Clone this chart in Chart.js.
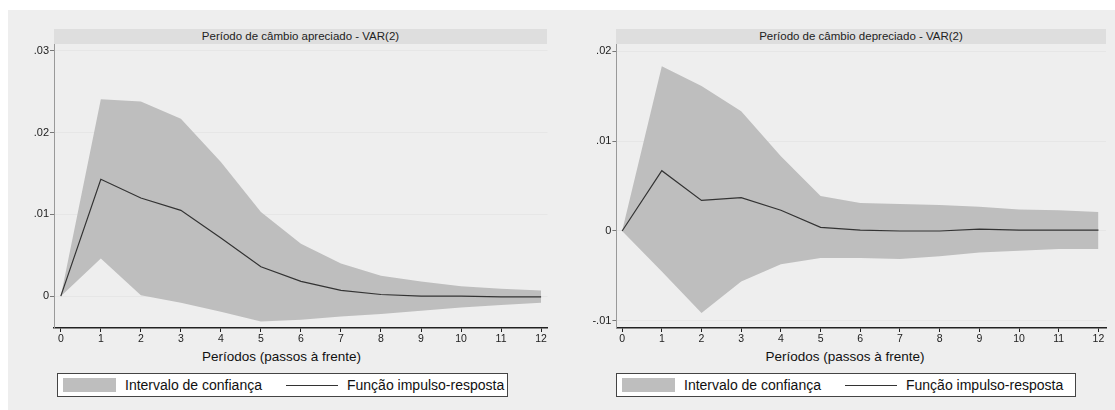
<!DOCTYPE html>
<html>
<head>
<meta charset="utf-8">
<script src="https://cdn.jsdelivr.net/npm/chart.js@4.4.1/dist/chart.umd.min.js"></script>
<style>
  body { margin: 0; background: #fff; font-family: "Liberation Sans", Arial, sans-serif; }
  #page { position: relative; width: 1115px; height: 410px; overflow: hidden; }
  .bg { position: absolute; left: 8px; top: 10px; width: 1107px; height: 400px; background: #eeeeee; }
  .strip { position: absolute; top: 29px; height: 15px; line-height: 15px; background: #dedede;
           font-size: 11.5px; color: #222; text-align: center; white-space: nowrap; }
  canvas { position: absolute; top: 29px; }
  .xtitle { position: absolute; top: 349px; font-size: 13.5px; line-height: 15px; color: #111; text-align: center; }
  .legend { position: absolute; top: 373px; height: 24px; box-sizing: border-box; border: 1px solid #444; background: #fff; }
  .legend .sw { position: absolute; left: 5px; top: 4px; width: 53px; height: 14px; background: #bebebe; }
  .legend .ln { position: absolute; left: 228px; top: 11px; width: 52px; height: 1px; background: #333; }
  .legend span { position: absolute; top: 3px; font-size: 14px; line-height: 16px; color: #111; white-space: nowrap; }
</style>
</head>
<body>
<div id="page">
  <div class="bg"></div>

  <div class="strip" id="title1" style="left:54px;width:493px;"></div>
  <canvas id="chart1" width="547" height="319" style="left:8px;"></canvas>
  <div class="xtitle" id="xtitle1" style="left:8px;width:547px;"></div>
  <div class="legend" id="legend1" style="left:57px;width:451px;"></div>

  <div class="strip" id="title2" style="left:616px;width:490px;"></div>
  <canvas id="chart2" width="550" height="319" style="left:563px;"></canvas>
  <div class="xtitle" id="xtitle2" style="left:563px;width:564px;"></div>
  <div class="legend" id="legend2" style="left:616px;width:460px;"></div>
</div>

<script>
// Horizon (steps ahead)
const periods = [0, 1, 2, 3, 4, 5, 6, 7, 8, 9, 10, 11, 12];

// Appreciated exchange-rate period
const apreciadoIrf   = [0, 0.0143, 0.0120, 0.0105, 0.0071, 0.0036, 0.0018, 0.0007, 0.0002, 0.0000, 0.0000, -0.0001, -0.0001];
const apreciadoUpper = [0, 0.0241, 0.0238, 0.0217, 0.0164, 0.0103, 0.0064, 0.0040, 0.0025, 0.0018, 0.0012, 0.0009, 0.0007];
const apreciadoLower = [0, 0.0046, 0.0001, -0.0008, -0.0019, -0.0031, -0.0029, -0.0025, -0.0022, -0.0018, -0.0014, -0.0011, -0.0008];

// Depreciated exchange-rate period
const depreciadoIrf   = [0, 0.0067, 0.0034, 0.0037, 0.0023, 0.0004, 0.0001, 0.0000, 0.0000, 0.0002, 0.0001, 0.0001, 0.0001];
const depreciadoUpper = [0, 0.0183, 0.0161, 0.0133, 0.0083, 0.0039, 0.0031, 0.0030, 0.0029, 0.0027, 0.0024, 0.0023, 0.0021];
const depreciadoLower = [0, -0.0045, -0.0091, -0.0056, -0.0037, -0.0030, -0.0030, -0.0031, -0.0028, -0.0024, -0.0022, -0.0020, -0.0020];

// Tick labels
const apreciadoTicks = [0, 0.01, 0.02, 0.03];
const depreciadoTicks = [-0.01, 0, 0.01, 0.02];

const panelTitles = ["Período de câmbio apreciado - VAR(2)", "Período de câmbio depreciado - VAR(2)"];
const xAxisTitle = "Períodos (passos à frente)";
const bandLabel = "Intervalo de confiança";
const lineLabel = "Função impulso-resposta";

const BAND = "#bebebe";
const LINE = "#333333";

function stataNum(v) {
  if (Math.abs(v) < 1e-9) return "0";
  const s = Math.abs(v).toFixed(2).replace(/^0/, "");
  return (v < 0 ? "-" : "") + s;
}

function toPoints(values) {
  return periods.map((p, i) => ({ x: p, y: values[i] }));
}

function buildLegend(id) {
  const el = document.getElementById(id);
  el.innerHTML =
    '<div class="sw"></div><span style="left:67px">' + bandLabel + '</span>' +
    '<div class="ln"></div><span style="left:289px">' + lineLabel + '</span>';
}

function makeChart(canvasId, irf, upper, lower, yTicks, opts) {
  const ctx = document.getElementById(canvasId).getContext("2d");
  return new Chart(ctx, {
    type: "line",
    data: {
      datasets: [
        {
          label: lineLabel,
          data: toPoints(irf),
          borderColor: LINE,
          borderWidth: 1.2,
          pointRadius: 0,
          fill: false,
          tension: 0,
        },
        {
          label: bandLabel,
          data: toPoints(upper),
          borderWidth: 0,
          borderColor: BAND,
          backgroundColor: BAND,
          pointRadius: 0,
          fill: "+1",
          tension: 0,
        },
        {
          label: "lower",
          data: toPoints(lower),
          borderWidth: 0,
          borderColor: BAND,
          pointRadius: 0,
          fill: false,
          tension: 0,
        },
      ],
    },
    options: {
      responsive: false,
      animation: false,
      devicePixelRatio: 1,
      layout: { padding: { top: 15, right: opts.padRight, left: 0, bottom: 0 } },
      plugins: {
        legend: { display: false },
        tooltip: { enabled: false },
      },
      scales: {
        x: {
          type: "linear",
          min: opts.xMin,
          max: opts.xMax,
          afterBuildTicks: (s) => { s.ticks = periods.map((v) => ({ value: v })); },
          afterFit: (s) => { s.height = 20; },
          grid: { drawOnChartArea: false, tickLength: 4, color: "#222", tickColor: "#222" },
          border: { display: true, color: "#222", width: 1.5 },
          ticks: {
            autoSkip: false,
            maxRotation: 0,
            padding: 1,
            color: "#222",
            font: { family: "Liberation Sans", size: 10.5 },
            callback: (v) => String(v),
          },
        },
        y: {
          min: opts.yMin,
          max: opts.yMax,
          afterBuildTicks: (s) => { s.ticks = yTicks.map((v) => ({ value: v })); },
          afterFit: (s) => { s.width = opts.yWidth; },
          grid: { color: "#e6e6e6", tickColor: "#777", tickLength: 4 },
          border: { display: true, color: "#999", width: 1 },
          ticks: {
            padding: 1,
            color: "#222",
            font: { family: "Liberation Sans", size: 11 },
            callback: (v) => stataNum(v),
          },
        },
      },
    },
  });
}

document.getElementById("title1").textContent = panelTitles[0];
document.getElementById("title2").textContent = panelTitles[1];
document.getElementById("xtitle1").textContent = xAxisTitle;
document.getElementById("xtitle2").textContent = xAxisTitle;
buildLegend("legend1");
buildLegend("legend2");

makeChart("chart1", apreciadoIrf, apreciadoUpper, apreciadoLower, apreciadoTicks, {
  xMin: -0.17, xMax: 12.16, yMin: -0.0039, yMax: 0.03085, yWidth: 46, padRight: 7.5,
});

makeChart("chart2", depreciadoIrf, depreciadoUpper, depreciadoLower, depreciadoTicks, {
  xMin: -0.144, xMax: 12.19, yMin: -0.01078, yMax: 0.02078, yWidth: 53.4, padRight: 7,
});
</script>
</body>
</html>
